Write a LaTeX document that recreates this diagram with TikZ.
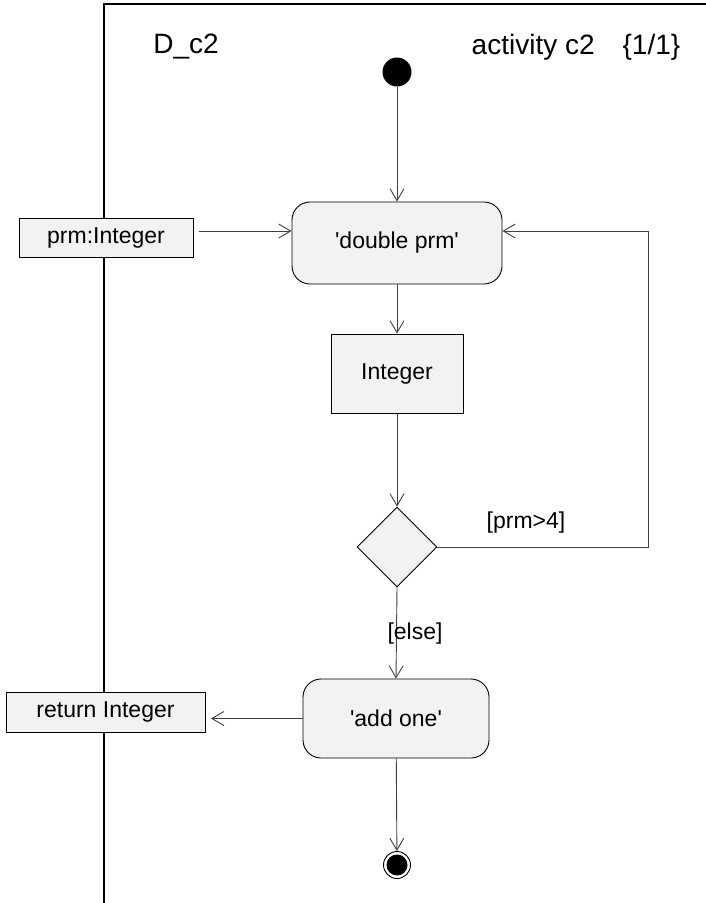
\documentclass[tikz,border=0pt]{standalone}
\usepackage{fontspec}
\setmainfont{Liberation Sans}
\usetikzlibrary{arrows.meta,shapes.geometric}
\definecolor{boxfill}{HTML}{F2F2F2}
\definecolor{connc}{HTML}{404040}
\begin{document}
\begin{tikzpicture}[x=1pt,y=-1pt,
  actbox/.style={draw=black, fill=boxfill, rounded corners=18pt, line width=0.9pt, inner sep=0pt, font=\fontsize{23}{27}\selectfont},
  objbox/.style={draw=black, fill=boxfill, line width=0.9pt, inner sep=0pt, font=\fontsize{23}{27}\selectfont},
  decbox/.style={draw=black, fill=boxfill, diamond, aspect=1, line width=0.9pt, inner sep=0pt, minimum width=80pt, minimum height=80pt},
  initnode/.style={circle, fill=black, inner sep=0pt, minimum size=29pt},
  finalnode/.style={circle, draw=black, fill=white, line width=0.9pt, inner sep=0pt, minimum size=27pt},
  flow/.style={draw=connc, line width=0.9pt, -{Straight Barb[length=12pt,width=14pt,line width=0.9pt]}},
  lbl/.style={font=\fontsize{23}{27}\selectfont, inner sep=0pt},
  hdr/.style={font=\fontsize{28}{32}\selectfont, inner sep=0pt}]
\useasboundingbox (0,0) rectangle (706,903);
\fill[white] (0,0) rectangle (706,903);
% frame
\draw[line width=2pt] (707,4) -- (104,4) -- (104,904);
\node[hdr] (title) at (186,47) {D\_c2};
\node[hdr] (act) at (576,47) {activity c2\hspace{28pt}\{1/1\}};
% nodes
\node[initnode] (start) at (397,72) {};
\node[actbox, minimum width=210pt, minimum height=82pt] (dbl) at (397,243) {\textquotesingle double prm\textquotesingle};
\node[objbox, minimum width=174pt, minimum height=39pt] (prm) at (106,238) {prm:Integer};
\node[objbox, minimum width=132pt, minimum height=79pt] (int) at (397,373.5) {Integer};
\node[decbox] (dec) at (397,547) {};
\node[actbox, minimum width=186pt, minimum height=79pt] (add) at (396,718.5) {\textquotesingle add one\textquotesingle};
\node[objbox, minimum width=199pt, minimum height=40pt] (ret) at (105.5,712) {return Integer};
\node[finalnode] (end) at (397,865) {};
\fill[black] (end.center) circle (10.5pt);
% coordinates
\coordinate (pin) at (199,231);
\coordinate (loop) at (648,231);
\coordinate (rout) at (211,718.5);
% connectors
\draw[flow] (start) -- (dbl);
\draw[flow] (pin) -- (pin -| dbl.west);
\draw[flow] (dbl) -- (int);
\draw[flow] (int) -- (dec.north);
\draw[flow] (dec.east) -| (loop) -- (loop -| dbl.east);
\node[lbl] (gt) at (526,523) {[prm>4]};
\draw[flow] (dec.south) -- (add.north);
\node[lbl] (els) at (415,634) {[else]};
\draw[flow] (add.west) -- (rout);
\draw[flow] (add) -- (end);
\end{tikzpicture}
\end{document}
